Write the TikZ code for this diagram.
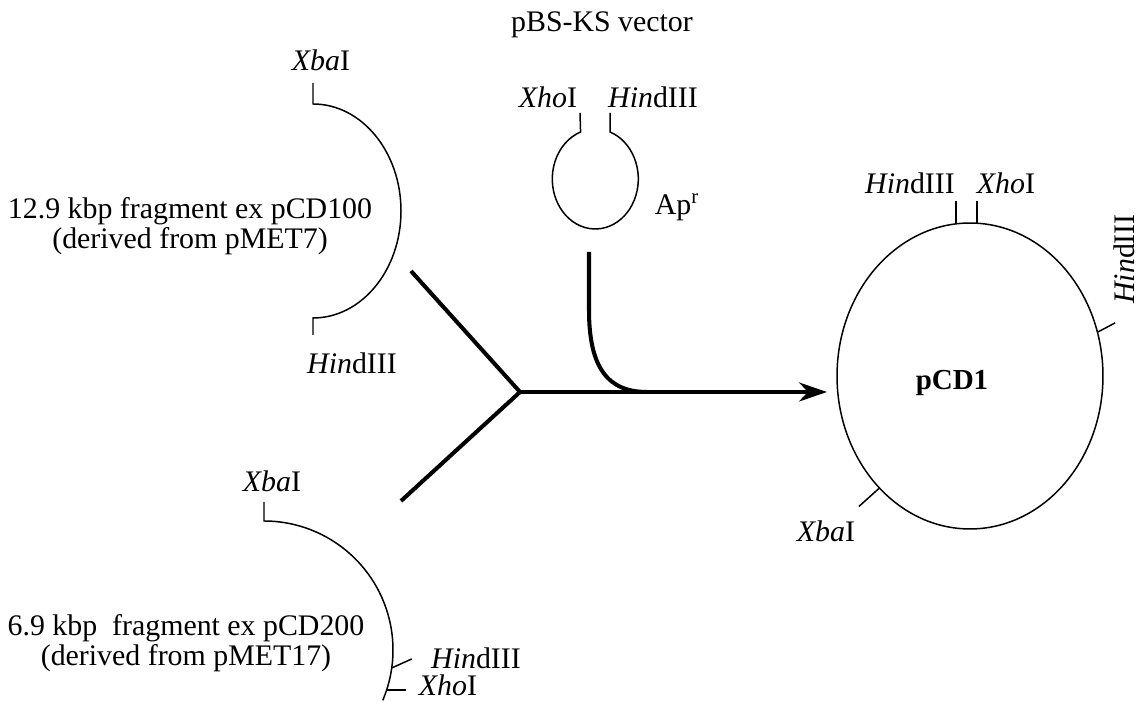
\documentclass[tikz,border=0pt]{standalone}
\usepackage{fontspec}
\setmainfont{Liberation Serif}
\usetikzlibrary{arrows.meta,positioning,shapes,calc}
\tikzstyle{txt}=[font=\fontsize{17}{17}\selectfont,inner sep=1pt]
\tikzstyle{frag}=[txt,align=center]
\tikzstyle{dna}=[line width=0.85pt]
\tikzstyle{flow}=[line width=2.3pt]
\tikzstyle{plasmid}=[ellipse,draw,line width=0.85pt,minimum width=5.32cm,minimum height=6.12cm,inner sep=0pt]

\begin{document}
\begin{tikzpicture}[x=0.02cm,y=0.02cm]
            \useasboundingbox (0,0) rectangle (1140,702);

            % pMET7 PART

            \coordinate (c1) at (313,491);
            \node[txt] (xba1) at (321,642) {\textit{Xba}I};
            \node[txt] (hind1) at (352,339) {\textit{Hin}dIII};
            \node[frag] (f1) at (190,476) {12.9 kbp fragment ex pCD100\\(derived from pMET7)};
            \draw[dna] (313,619) -- (313,598) arc[start angle=90,end angle=-90,x radius=88,y radius=107] -- (313,367);

            % pMET17 PART

            \coordinate (c2) at (264,52);
            \node[txt] (xba2) at (272,221) {\textit{Xba}I};
            \node[txt,inner sep=0pt] (hind2) at (476,44) {\textit{Hin}dIII};
            \node[txt,inner sep=0pt] (xho2) at (448,17) {\textit{Xho}I};
            \node[frag] (f2) at (186,59) {6.9 kbp~ fragment ex pCD200\\(derived from pMET17)};
            \draw[dna] (264,200) -- (264,181) arc[start angle=90,end angle=-23,radius=129];
            \draw[dna] ($(c2)+(-8:129)$) -- ++(20,9);
            \draw[dna] ($(c2)+(-18:129)$) -- ++(19,0);

            % pBS-KS PART

            \node[txt] (vec) at (602,677) {pBS-KS vector};
            \node[txt] (xho3) at (548,605) {\textit{Xho}I};
            \node[txt] (hind3) at (653,605) {\textit{Hin}dIII};
            \node[txt] (apr) at (677,495) {Ap\textsuperscript{r}};
            \draw[dna] (610,589) -- (610,570) arc[start angle=70,end angle=-250,x radius=43,y radius=50] -- (580,589);

            % Ligation

            \coordinate (j) at (520,310);
            \coordinate (a1) at (411,431);
            \coordinate (a2) at (401,201);
            \coordinate (v) at (589,450);
            \coordinate (m) at (647,310);
            \coordinate (tip) at (827,310);
            \draw[flow] (a1) -- (j) -- (a2);
            \draw[flow] (v) -- (589,392) .. controls (589,334) and (608,310) .. (m);
            \draw[flow,-{Stealth[length=5.6mm,width=3.8mm]}] (j) -- (tip);

            % pCD1 PART

            \node[plasmid] (pcd1) at (970,326) {};
            \node[txt,font=\fontsize{16.5}{17}\selectfont\bfseries] (name) at (952,319) {pCD1};
            \draw[dna] ($(pcd1.north)+(-14,-1)$) -- ++(0,22);
            \draw[dna] ($(pcd1.north)+(7,-1)$) -- ++(0,22);
            \draw[dna] (pcd1.19) -- ++(17,9);
            \draw[dna] (pcd1.231) -- ++(-20,-18);
            \node[txt] (hind4) at (910,519) {\textit{Hin}dIII};
            \node[txt] (xho4) at (1006,519) {\textit{Xho}I};
            \node[txt,rotate=90,inner sep=0pt] (hind5) at (1124,443) {\textit{Hin}dIII};
            \node[txt] (xba4) at (826,171) {\textit{Xba}I};

        \end{tikzpicture}
\end{document}
